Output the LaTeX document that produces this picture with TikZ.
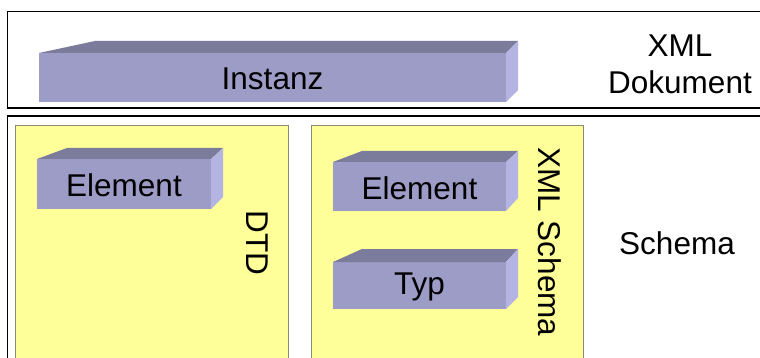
\documentclass[tikz,border=0pt]{standalone}
\usepackage{fontspec}
\setmainfont{Liberation Sans}
\usetikzlibrary{calc}
\definecolor{frontc}{HTML}{9C9CC6}
\definecolor{topc}{HTML}{7B7B9B}
\definecolor{sidec}{HTML}{B4B4E2}
\definecolor{yel}{HTML}{FFFF99}
\definecolor{yelborder}{HTML}{8A8A70}
\tikzset{
  frame/.style={draw=black, line width=1.8pt},
  panel/.style={fill=yel, draw=yelborder, line width=0.8pt},
  lbl/.style={font=\fontsize{31.5}{37}\selectfont, text=black, inner sep=0pt, align=center},
}
% #1 left #2 top #3 right #4 bottom #5 back-left x #6 back-top y #7 back-right x #8 back-bottom y #9 name
\newcommand\prismbox[9]{%
  \fill[frontc] (#1,#2) rectangle (#3,#4);
  \fill[topc] (#1,#2) -- (#5,#6) -- (#7,#6) -- (#3,#2) -- cycle;
  \fill[sidec] (#3,#2) -- (#7,#6) -- (#7,#8) -- (#3,#4) -- cycle;
  \coordinate (#9) at ($(#1,#2)!0.5!(#3,#4)+(0,1.5)$);
}
\begin{document}
\begin{tikzpicture}[x=1pt,y=-1pt]
\useasboundingbox (0,0) rectangle (760,358);
\clip (0,0) rectangle (760,358);
\fill[white] (0,0) rectangle (760,358);
% outer frames
\draw[frame] (7.5,11.5) rectangle (780,108);
\draw[frame] (7.5,116) rectangle (780,380);
% yellow panels
\draw[panel] (15.5,125) rectangle (288,380);
\draw[panel] (311.5,125) rectangle (583,380);
% bars
\prismbox{39}{53}{506}{102}{95}{41}{518}{90}{pInst}
\node[lbl] (tInst) at (pInst) {Instanz};
\prismbox{37}{159}{211}{209}{67}{148}{223}{197}{pEl1}
\node[lbl] (tEl1) at (pEl1) {Element};
\prismbox{333}{162}{506}{211}{362}{151}{518}{198}{pEl2}
\node[lbl] (tEl2) at (pEl2) {Element};
\prismbox{333}{262}{506}{309}{362}{249}{518}{297}{pTyp}
\node[lbl] (tTyp) at (pTyp) {Typ};
% labels
\node[lbl] (doc) at (680,64) {XML\\Dokument};
\node[lbl] (schema) at (677,243) {Schema};
\node[lbl, rotate=-90] (dtd) at (257,243) {DTD};
\node[lbl, rotate=-90] (xsd) at (550,242) {XML Schema};
\end{tikzpicture}
\end{document}
